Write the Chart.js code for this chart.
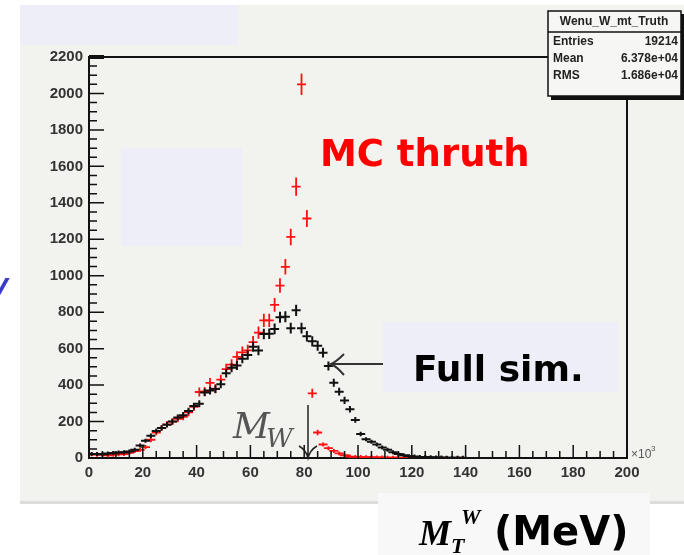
<!DOCTYPE html>
<html>
<head>
<meta charset="utf-8">
<script src="https://cdn.jsdelivr.net/npm/chart.js@4.4.1/dist/chart.umd.min.js"></script>
<style>
  html, body { margin: 0; padding: 0; background: #fff; }
  canvas { display: block; }
</style>
</head>
<body>
<canvas id="mtChart" width="684" height="555"></canvas>
<script>
// bin centres (GeV, axis is x10^3 MeV), 2 GeV bins
const binCentres = [1, 3, 5, 7, 9, 11, 13, 15, 17, 19,
	21, 23, 25, 27, 29, 31, 33, 35, 37, 39,
	41, 43, 45, 47, 49, 51, 53, 55, 57, 59,
	61, 63, 65, 67, 69, 71, 73, 75, 77, 79,
	81, 83, 85, 87, 89, 91, 93, 95, 97, 99,
	101, 103, 105, 107, 109, 111, 113, 115, 117, 119,
	121, 123, 125, 127, 129, 131, 133, 135, 137, 139];

// black points - full simulation
const fullSim = [22, 22, 20, 25, 28, 30, 32, 35, 45, 68,
	95, 122, 148, 165, 183, 200, 222, 235, 258, 285,
	298, 360, 370, 378, 405, 465, 495, 508, 545, 565,
	610, 590, 680, 682, 708, 772, 775, 712, 810, 712,
	668, 640, 616, 578, 505, 413, 364, 316, 267, 209,
	132, 103, 89, 74, 58, 45, 31, 22, 15, 10,
	8, 6, 5, 4, 3, 3, 2, 2, 1, 1];

// red points - MC truth
const mcTruth = [20, 18, 18, 15, 18, 20, 22, 28, 38, 45,
	60, 100, 140, 165, 185, 200, 215, 226, 250, 280,
	362, 365, 412, 380, 430, 488, 512, 555, 580, 590,
	636, 688, 755, 755, 840, 946, 1049, 1213, 1489, 2050,
	1314, 355, 140, 74, 54, 39, 25, 15, 8, 6,
	5, 4, 4, 3, 3, 2, 2, 2, 1, 0,
	0, 0, 0, 0, 0, 0, 0, 0, 0, 0];

const xTicks = [0, 20, 40, 60, 80, 100, 120, 140, 160, 180, 200];
const yTicks = [0, 200, 400, 600, 800, 1000, 1200, 1400, 1600, 1800, 2000, 2200];

const statsTitle = "Wenu_W_mt_Truth";
const statsRows = [["Entries", "19214"], ["Mean", "6.378e+04"], ["RMS", "1.686e+04"]];

function toPoints(vals) {
	return binCentres.map((x, i) => ({ x: x, y: vals[i] }));
}

const bgPlugin = {
	id: "bg",
	beforeDraw(chart) {
		const g = chart.ctx;
		g.save();
		g.fillStyle = "#f2f2ee";
		g.fillRect(20, 5, 664, 496);
		g.fillStyle = "#dcdcda";
		g.fillRect(20, 501, 664, 3);
		g.fillStyle = "#eeeef8";
		g.fillRect(20, 5, 218, 40);
		g.fillRect(121, 148, 121, 98);
		g.restore();
	},
};

// histogram markers: horizontal bar + vertical error bar
const markerPlugin = {
	id: "markers",
	afterDatasetsDraw(chart) {
		const g = chart.ctx;
		const ys = chart.scales.y;
		const area = chart.chartArea;
		g.save();
		g.beginPath();
		g.rect(area.left, area.top - 20, area.right - area.left, area.bottom - area.top + 20);
		g.clip();
		chart.data.datasets.forEach((ds, di) => {
			const meta = chart.getDatasetMeta(di);
			g.strokeStyle = ds.borderColor;
			g.lineWidth = ds.markWidth;
			meta.data.forEach((pt, i) => {
				const v = ds.data[i].y;
				const err = Math.sqrt(v) * ds.errScale;
				const yTop = ys.getPixelForValue(v + err);
				const yBot = ys.getPixelForValue(Math.max(0, v - err));
				g.beginPath();
				g.moveTo(pt.x - 4.5, pt.y);
				g.lineTo(pt.x + 4.5, pt.y);
				g.moveTo(pt.x, Math.min(yTop, pt.y - 2));
				g.lineTo(pt.x, Math.max(yBot, pt.y + 2));
				g.stroke();
			});
		});
		g.restore();
	},
};

const framePlugin = {
	id: "frame",
	afterDraw(chart) {
		const g = chart.ctx;
		const xs = chart.scales.x;
		const ys = chart.scales.y;
		const a = chart.chartArea;
		g.save();
		g.strokeStyle = "#111";
		g.lineWidth = 2;
		// top and right frame
		g.beginPath();
		g.moveTo(a.left, a.top);
		g.lineTo(548, a.top);
		g.moveTo(a.right, 97);
		g.lineTo(a.right, a.bottom);
		g.stroke();
		// x ticks, inside
		g.lineWidth = 1.5;
		g.beginPath();
		for (let v = 0; v <= 200; v += 5) {
			const px = xs.getPixelForValue(v);
			const len = v % 20 === 0 ? 13 : 7;
			g.moveTo(px, a.bottom);
			g.lineTo(px, a.bottom - len);
		}
		// y ticks, inside
		for (let v = 0; v <= 2200; v += 50) {
			const py = ys.getPixelForValue(v);
			const len = v % 200 === 0 ? 15 : 8;
			g.moveTo(a.left, py);
			g.lineTo(a.left + len, py);
		}
		g.stroke();
		g.lineWidth = 4;
		g.beginPath();
		g.moveTo(a.left, a.top);
		g.lineTo(a.left + 15, a.top);
		g.stroke();

		g.fillStyle = "#555";
		g.font = "12px 'Liberation Sans'";
		g.textAlign = "left";
		g.fillText("\u00d710", 631, 458);
		g.font = "8px 'Liberation Sans'";
		g.fillText("3", 651, 451);

		// stats box
		g.fillStyle = "#111";
		g.fillRect(551, 14, 134, 86);
		g.fillStyle = "#f6f6f4";
		g.fillRect(548, 11, 133, 85);
		g.strokeStyle = "#111";
		g.lineWidth = 1.5;
		g.strokeRect(548, 11, 133, 85);
		g.beginPath();
		g.moveTo(548, 32);
		g.lineTo(681, 32);
		g.stroke();
		g.fillStyle = "#222";
		g.font = "bold 12px 'Liberation Sans'";
		g.textAlign = "center";
		g.textBaseline = "middle";
		g.fillText(statsTitle, 614, 22);
		statsRows.forEach((r, i) => {
			const yy = 42 + i * 17;
			g.textAlign = "left";
			g.fillText(r[0], 553, yy);
			g.textAlign = "right";
			g.fillText(r[1], 678, yy);
		});

		// annotations
		g.textBaseline = "alphabetic";
		g.fillStyle = "#ff0000";
		g.font = "bold 37px 'DejaVu Sans'";
		g.textAlign = "left";
		g.fillText("MC thruth", 320, 166);

		g.fillStyle = "#eeeef8";
		g.fillRect(383, 322, 235, 70);
		g.fillStyle = "#000";
		g.font = "bold 36px 'DejaVu Sans'";
		g.fillText("Full sim.", 413, 381);

		g.strokeStyle = "#333";
		g.lineWidth = 2;
		g.beginPath();
		g.moveTo(383, 364);
		g.lineTo(331, 364);
		g.moveTo(344, 354);
		g.quadraticCurveTo(336, 362, 331, 364);
		g.quadraticCurveTo(336, 366, 344, 375);
		g.stroke();

		// M_W marker
		g.fillStyle = "#555";
		g.font = "italic 36px 'DejaVu Serif'";
		g.fillText("M", 233, 438);
		g.font = "italic 26px 'DejaVu Serif'";
		g.fillText("W", 266, 447);
		g.strokeStyle = "#222";
		g.lineWidth = 1.5;
		g.beginPath();
		g.moveTo(308, 405);
		g.lineTo(308, 458);
		g.moveTo(299, 446);
		g.quadraticCurveTo(306, 450, 308, 458);
		g.quadraticCurveTo(310, 450, 317, 446);
		g.stroke();

		// axis title box
		g.fillStyle = "#f8f8f8";
		g.fillRect(378, 493, 272, 62);
		g.fillStyle = "#000";
		g.font = "italic bold 36px 'Liberation Serif'";
		g.fillText("M", 419, 545);
		g.font = "italic bold 22px 'Liberation Serif'";
		g.fillText("T", 451, 553);
		g.fillText("W", 461, 524);
		g.font = "bold 40px 'DejaVu Sans'";
		g.fillText("(MeV)", 494, 545);

		// cut-off blue letter at left edge
		g.fillStyle = "#3a3acc";
		g.font = "italic 40px 'DejaVu Sans'";
		g.fillText("V", -20, 308);
		g.restore();
	},
};

const ctx = document.getElementById("mtChart");
const tickFont = { family: "Liberation Sans", size: 15, weight: "bold" };
const config = {
	type: "scatter",
	data: {
		datasets: [
			{ label: "MC truth", data: toPoints(mcTruth), borderColor: "#ff1010", markWidth: 1.8, errScale: 1.3, pointRadius: 0 },
			{ label: "Full sim", data: toPoints(fullSim), borderColor: "#111", markWidth: 2, errScale: 1.1, pointRadius: 0 },
		],
	},
	options: {
		responsive: false,
		devicePixelRatio: 1,
		animation: false,
		layout: { padding: { top: 57, right: 57, left: 0, bottom: 0 } },
		plugins: { legend: { display: false }, tooltip: { enabled: false } },
		scales: {
			x: {
				type: "linear",
				min: 0,
				max: 200,
				afterFit: (s) => { s.height = 97; },
				afterBuildTicks: (s) => { s.ticks = xTicks.map((v) => ({ value: v })); },
				grid: { display: false },
				border: { display: true, color: "#111", width: 2 },
				ticks: { autoSkip: false, maxRotation: 0, padding: -2, color: "#333", font: tickFont, callback: (v) => String(v) },
			},
			y: {
				type: "linear",
				min: 0,
				max: 2200,
				afterFit: (s) => { s.width = 89; },
				afterBuildTicks: (s) => { s.ticks = yTicks.map((v) => ({ value: v })); },
				grid: { display: false },
				border: { display: true, color: "#111", width: 2 },
				ticks: { autoSkip: false, padding: -2, color: "#333", font: tickFont, callback: (v) => String(v) },
			},
		},
	},
	plugins: [bgPlugin, markerPlugin, framePlugin],
};
const chart = new Chart(ctx, config);
</script>
</body>
</html>
